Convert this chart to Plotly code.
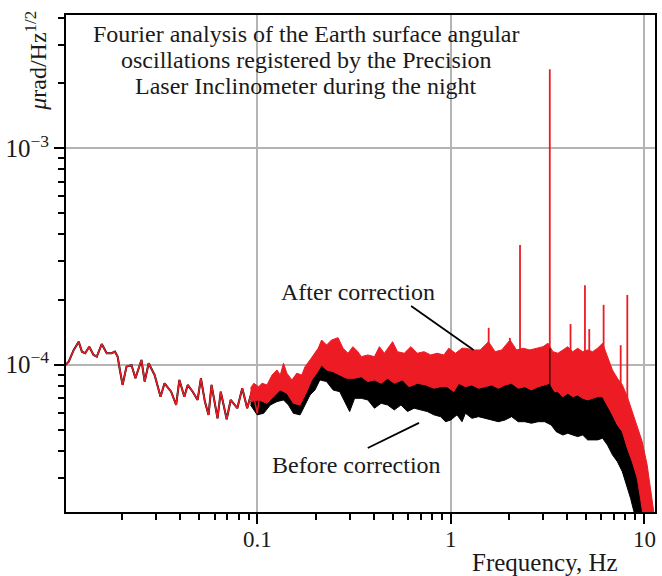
import math
import plotly.graph_objects as go

# ---------------- data ----------------
# Low-frequency part: both series coincide (single line)
low_freq = [0.01016, 0.01057, 0.01122, 0.01190, 0.01237, 0.01286, 0.01349, 0.01421, 0.01477, 0.01566,
            0.01662, 0.01763, 0.01833, 0.01892, 0.01944, 0.02007, 0.02103, 0.02232, 0.02339, 0.02512,
            0.02612, 0.02738, 0.02939, 0.03155, 0.03307, 0.03579, 0.03798, 0.03948, 0.04188, 0.04360,
            0.04626, 0.04906, 0.05101, 0.05348, 0.05587, 0.05789, 0.06216, 0.06461, 0.06934, 0.07270,
            0.07869, 0.08346, 0.08853, 0.09393, 0.0998, 0.1036]
low_val = [9.97e-5, 1.032e-4, 1.169e-4, 1.277e-4, 1.148e-4, 1.129e-4, 1.211e-4, 1.109e-4, 1.089e-4, 1.246e-4,
           1.129e-4, 1.129e-4, 1.148e-4, 1.089e-4, 9.45e-5, 8.06e-5, 9.79e-5, 9.97e-5, 8.65e-5, 1.051e-4,
           8.35e-5, 1.015e-4, 8.96e-5, 7.11e-5, 8.20e-5, 7.50e-5, 6.51e-5, 8.50e-5, 7.11e-5, 8.06e-5,
           7.50e-5, 6.87e-5, 8.65e-5, 6.75e-5, 5.86e-5, 8.06e-5, 5.65e-5, 7.50e-5, 5.59e-5, 6.87e-5,
           6.29e-5, 7.78e-5, 6.29e-5, 7.64e-5, 5.96e-5, 7.64e-5]

# Upper envelope of the "after correction" (red) noise band
after_top_f = [0.0921, 0.0957, 0.1015, 0.1057, 0.1121, 0.1190, 0.1262, 0.1312, 0.1364, 0.1420,
               0.1507, 0.1598, 0.1695, 0.1763, 0.1870, 0.1944, 0.2062, 0.2147, 0.2278, 0.2416,
               0.2612, 0.2771, 0.2939, 0.3118, 0.3308, 0.3443, 0.3723, 0.4029, 0.4274, 0.4533,
               0.5000, 0.5303, 0.5741, 0.6213, 0.6717, 0.7270, 0.7869, 0.8506, 0.9207, 0.9766,
               1.057, 1.143, 1.190, 1.312, 1.420, 1.566, 1.695, 1.833, 2.024, 2.188,
               2.368, 2.563, 2.771, 3.000, 3.182, 3.375, 3.580, 3.797, 4.029, 4.274,
               4.533, 4.810, 5.101, 5.411, 5.741, 6.090, 6.460, 6.853, 7.270, 7.713,
               8.181, 8.679, 9.207, 9.766, 10.36, 10.77, 11.21, 11.6]
after_top_v = [0.778e-4, 0.820e-4, 0.791e-4, 0.820e-4, 0.806e-4, 0.896e-4, 0.945e-4, 0.896e-4, 1.015e-4, 0.913e-4,
               0.850e-4, 0.913e-4, 0.896e-4, 0.979e-4, 1.051e-4, 1.109e-4, 1.191e-4, 1.300e-4, 1.233e-4, 1.300e-4,
               1.333e-4, 1.191e-4, 1.129e-4, 1.211e-4, 1.148e-4, 1.089e-4, 1.109e-4, 1.089e-4, 1.211e-4, 1.129e-4,
               1.277e-4, 1.148e-4, 1.129e-4, 1.211e-4, 1.129e-4, 1.148e-4, 1.109e-4, 1.129e-4, 1.109e-4, 1.191e-4,
               1.129e-4, 1.191e-4, 1.191e-4, 1.169e-4, 1.169e-4, 1.277e-4, 1.148e-4, 1.169e-4, 1.300e-4, 1.169e-4,
               1.191e-4, 1.169e-4, 1.191e-4, 1.211e-4, 1.256e-4, 1.148e-4, 1.129e-4, 1.169e-4, 1.211e-4, 1.148e-4,
               1.191e-4, 1.148e-4, 1.169e-4, 1.148e-4, 1.191e-4, 1.256e-4, 1.089e-4, 0.945e-4, 0.865e-4, 0.806e-4,
               0.711e-4, 0.607e-4, 0.526e-4, 0.441e-4, 0.344e-4, 0.268e-4, 0.209e-4, 0.19e-4]

# Upper envelope of the "before correction" (black) band = lower edge of visible red
before_top_f = [0.0921, 0.1015, 0.1121, 0.1212, 0.1312, 0.1420, 0.1535, 0.1662, 0.1798, 0.1908,
                0.2024, 0.2147, 0.2278, 0.2462, 0.2665, 0.2884, 0.3182, 0.3443, 0.3723, 0.4029,
                0.4361, 0.4713, 0.5101, 0.5627, 0.6090, 0.6717, 0.7418, 0.8181, 0.8855, 0.9572,
                1.036, 1.099, 1.190, 1.286, 1.392, 1.506, 1.628, 1.763, 1.908, 2.062,
                2.232, 2.416, 2.612, 2.827, 3.060, 3.246, 3.443, 3.580, 3.797, 4.029,
                4.274, 4.533, 4.810, 5.101, 5.411, 5.741, 6.090, 6.460, 6.853, 7.270,
                7.713, 8.181, 8.679, 9.207, 9.572, 9.965]
before_top_v = [0.675e-4, 0.687e-4, 0.663e-4, 0.711e-4, 0.764e-4, 0.738e-4, 0.663e-4, 0.651e-4, 0.750e-4, 0.850e-4,
                0.913e-4, 0.997e-4, 0.945e-4, 0.928e-4, 0.896e-4, 0.865e-4, 0.865e-4, 0.880e-4, 0.835e-4, 0.850e-4,
                0.820e-4, 0.865e-4, 0.820e-4, 0.850e-4, 0.791e-4, 0.820e-4, 0.806e-4, 0.778e-4, 0.791e-4, 0.791e-4,
                0.750e-4, 0.820e-4, 0.791e-4, 0.806e-4, 0.778e-4, 0.791e-4, 0.806e-4, 0.778e-4, 0.806e-4, 0.820e-4,
                0.778e-4, 0.791e-4, 0.764e-4, 0.791e-4, 0.806e-4, 0.820e-4, 0.750e-4, 0.750e-4, 0.711e-4, 0.738e-4,
                0.711e-4, 0.724e-4, 0.699e-4, 0.687e-4, 0.699e-4, 0.711e-4, 0.711e-4, 0.651e-4, 0.586e-4, 0.526e-4,
                0.490e-4, 0.411e-4, 0.356e-4, 0.299e-4, 0.241e-4, 0.19e-4]

# Lower envelope of the "before correction" (black) band
before_bot_f = [0.0921, 0.0997, 0.1077, 0.1166, 0.1262, 0.1364, 0.1447, 0.1535, 0.1662, 0.1763,
                0.1870, 0.1984, 0.2104, 0.2278, 0.2462, 0.2665, 0.2884, 0.2999, 0.3182, 0.3443,
                0.3723, 0.4029, 0.4361, 0.4713, 0.5101, 0.5521, 0.5969, 0.6460, 0.6992, 0.7559,
                0.8181, 0.8855, 0.9393, 1.000, 1.077, 1.143, 1.190, 1.286, 1.392, 1.506,
                1.628, 1.763, 1.908, 2.062, 2.232, 2.416, 2.612, 2.827, 3.060, 3.308,
                3.509, 3.797, 4.029, 4.274, 4.533, 4.810, 5.101, 5.411, 5.741, 6.090,
                6.460, 6.853, 7.270, 7.713, 8.181, 8.506, 8.855, 9.207]
before_bot_v = [0.651e-4, 0.586e-4, 0.596e-4, 0.651e-4, 0.675e-4, 0.687e-4, 0.651e-4, 0.596e-4, 0.586e-4, 0.651e-4,
                0.724e-4, 0.764e-4, 0.850e-4, 0.835e-4, 0.764e-4, 0.750e-4, 0.651e-4, 0.607e-4, 0.699e-4, 0.699e-4,
                0.687e-4, 0.629e-4, 0.663e-4, 0.651e-4, 0.618e-4, 0.651e-4, 0.607e-4, 0.629e-4, 0.618e-4, 0.607e-4,
                0.586e-4, 0.575e-4, 0.545e-4, 0.555e-4, 0.586e-4, 0.545e-4, 0.596e-4, 0.565e-4, 0.575e-4, 0.565e-4,
                0.555e-4, 0.545e-4, 0.555e-4, 0.575e-4, 0.545e-4, 0.545e-4, 0.536e-4, 0.545e-4, 0.545e-4, 0.526e-4,
                0.490e-4, 0.473e-4, 0.482e-4, 0.473e-4, 0.465e-4, 0.473e-4, 0.449e-4, 0.449e-4, 0.449e-4, 0.457e-4,
                0.425e-4, 0.383e-4, 0.356e-4, 0.320e-4, 0.268e-4, 0.241e-4, 0.209e-4, 0.19e-4]

# Narrow spectral lines (after correction)
spike_f = [1.57, 2.02, 2.28, 3.25, 4.16, 4.94, 5.20, 6.17, 7.56, 8.18]
spike_base = [1.0e-4, 1.0e-4, 1.0e-4, 0.9e-4, 1.0e-4, 1.0e-4, 1.0e-4, 1.0e-4, 0.75e-4, 0.6e-4]
spike_peak = [1.48e-4, 1.33e-4, 3.57e-4, 2.32e-3, 1.54e-4, 2.33e-4, 1.46e-4, 1.89e-4, 1.23e-4, 2.10e-4]
# Spectral line in the "before" curve
before_spike_f = [3.25]
before_spike_base = [0.70e-4]
before_spike_peak = [1.19e-4]

x_ticks = [0.1, 1, 10]
x_ticktext = ["0.1", "1", "10"]
y_ticks = [1e-4, 1e-3]
y_ticktext = ["10<sup>\u22124</sup>", "10<sup>\u22123</sup>"]

title_lines = ["Fourier analysis of the Earth surface angular",
               "oscillations registered by the Precision",
               "Laser Inclinometer during the night"]
after_label = "After correction"
before_label = "Before correction"
# label position and leader-line tail/tip (frequency, value)
after_label_pos = (0.333, 2.17e-4)
after_leader_f = [0.6235, 1.312]
after_leader_v = [1.867e-4, 1.169e-4]
before_label_pos = (0.326, 3.44e-5)
before_leader_f = [0.372, 0.685]
before_leader_v = [4.12e-5, 5.38e-5]

RED = "#ed1c24"
BLACK = "#000000"
TXT = "#1a1a1a"
FONT = "Liberation Serif, Times New Roman, serif"


def band(top_f, top_v, bot_f, bot_v):
    return list(top_f) + list(bot_f)[::-1], list(top_v) + list(bot_v)[::-1]


def segs(fs, bases, peaks):
    xs, ys = [], []
    for f, b, p in zip(fs, bases, peaks):
        xs += [f, f, None]
        ys += [b, p, None]
    return xs, ys


fig = go.Figure()

# Before correction (black)
fig.add_trace(go.Scatter(x=low_freq, y=low_val, mode="lines",
                         line=dict(color=BLACK, width=2.0), hoverinfo="skip"))
bx, by = band(before_top_f, before_top_v, before_bot_f, before_bot_v)
fig.add_trace(go.Scatter(x=bx, y=by, mode="lines", fill="toself", fillcolor=BLACK,
                         line=dict(color=BLACK, width=1), hoverinfo="skip"))

# After correction (red)
fig.add_trace(go.Scatter(x=low_freq, y=low_val, mode="lines",
                         line=dict(color=RED, width=1.5), hoverinfo="skip"))
rx, ry = band(after_top_f, after_top_v, before_top_f, before_top_v)
fig.add_trace(go.Scatter(x=rx, y=ry, mode="lines", fill="toself", fillcolor=RED,
                         line=dict(color=RED, width=1), hoverinfo="skip"))
sx, sy = segs(spike_f, spike_base, spike_peak)
fig.add_trace(go.Scatter(x=sx, y=sy, mode="lines", line=dict(color=RED, width=1.8),
                         hoverinfo="skip"))
bsx, bsy = segs(before_spike_f, before_spike_base, before_spike_peak)
fig.add_trace(go.Scatter(x=bsx, y=bsy, mode="lines", line=dict(color=BLACK, width=1.2),
                         hoverinfo="skip"))

# leader lines of the labels
for lf, lv in ((after_leader_f, after_leader_v), (before_leader_f, before_leader_v)):
    fig.add_trace(go.Scatter(x=lf, y=lv, mode="lines", line=dict(color=BLACK, width=1.8),
                             hoverinfo="skip"))

minor_x = [m * 10 ** e for e in (-2, -1, 0) for m in range(2, 10)]
minor_y = [m * 10 ** e for e in (-5, -4, -3) for m in range(2, 10)]

fig.update_xaxes(type="log", range=[-1.99, 1.056],
                 tickvals=x_ticks, showticklabels=False,
                 ticks="outside", ticklen=10, tickwidth=1.5, tickcolor="black",
                 showline=True, linewidth=2, linecolor="black", mirror=True,
                 showgrid=True, gridcolor="#b4b4b4", gridwidth=1.5, zeroline=False,
                 minor=dict(tickvals=minor_x, ticks="outside", ticklen=6,
                            tickwidth=1.5, tickcolor="black", showgrid=False))
fig.update_yaxes(type="log", range=[-4.681, -2.384],
                 tickvals=y_ticks, ticktext=y_ticktext,
                 ticks="outside", ticklen=10, tickwidth=1.5, tickcolor="black",
                 showline=True, linewidth=2, linecolor="black", mirror=True,
                 showgrid=True, gridcolor="#b4b4b4", gridwidth=1.5, zeroline=False,
                 tickfont=dict(family=FONT, size=25, color=TXT),
                 minor=dict(tickvals=minor_y, ticks="outside", ticklen=6,
                            tickwidth=1.5, tickcolor="black", showgrid=False))

# white area behind the title text (gridlines hidden there)
fig.add_shape(type="rect", xref="paper", yref="paper", x0=0, x1=1, y0=0.803, y1=1,
              fillcolor="white", line=dict(width=0), layer="between")

L = math.log10
annots = []
# x tick labels
for tv, tt in zip(x_ticks, x_ticktext):
    annots.append(dict(text=tt, x=L(tv), xref="x", yref="paper", y=-0.056,
                       xanchor="center", yanchor="middle", showarrow=False,
                       font=dict(family=FONT, size=23, color=TXT)))
for line, yp in zip(title_lines, [0.9618, 0.9095, 0.8571]):
    annots.append(dict(text=line, xref="paper", yref="paper", x=0.408, y=yp,
                       xanchor="center", yanchor="middle", showarrow=False,
                       font=dict(family=FONT, size=24, color=TXT)))
annots += [
    dict(text=after_label, x=L(after_label_pos[0]), y=L(after_label_pos[1]),
         xanchor="center", yanchor="middle", showarrow=False,
         font=dict(family=FONT, size=24, color=TXT)),
    dict(text=before_label, x=L(before_label_pos[0]), y=L(before_label_pos[1]),
         xanchor="center", yanchor="middle", showarrow=False,
         font=dict(family=FONT, size=24, color=TXT)),
    dict(text="<i>\u03bc</i>rad/Hz<sup>1/2</sup>", xref="paper", yref="paper",
         x=-0.05, y=0.907, textangle=-90, xanchor="center", yanchor="middle",
         showarrow=False, font=dict(family=FONT, size=24, color=TXT)),
    dict(text="Frequency, Hz", xref="paper", yref="paper", x=0.813, y=-0.1026,
         xanchor="center", yanchor="middle", showarrow=False,
         font=dict(family=FONT, size=25, color=TXT)),
]
for a in annots:
    fig.add_annotation(**a)

fig.update_layout(width=662, height=576,
                  margin=dict(l=64, r=5, t=15, b=64),
                  paper_bgcolor="white", plot_bgcolor="white",
                  showlegend=False)

fig.write_html("out.html")
